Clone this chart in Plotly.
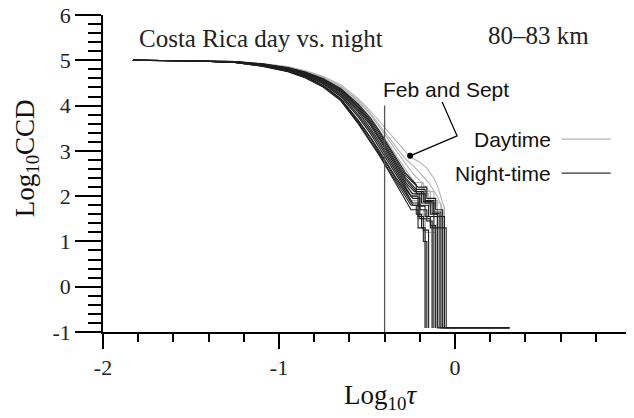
import plotly.graph_objects as go

# ---------------- data ----------------
TAU_GRID = [-1.83, -1.5, -1.25, -1.1, -0.95, -0.85, -0.75, -0.65, -0.55, -0.48, -0.43, -0.38, -0.33, -0.28]

NIGHT_CCD = [
    [5.0, 4.99, 4.95, 4.88, 4.76, 4.63, 4.43, 4.13, 3.63, 3.23, 2.93, 2.60, 2.30, 2.00],
    [5.0, 4.99, 4.95, 4.88, 4.77, 4.64, 4.45, 4.16, 3.68, 3.30, 3.00, 2.68, 2.38, 2.10],
    [5.0, 4.99, 4.95, 4.89, 4.78, 4.66, 4.48, 4.20, 3.75, 3.38, 3.07, 2.75, 2.45, 2.15],
    [5.0, 4.99, 4.96, 4.90, 4.79, 4.67, 4.50, 4.24, 3.80, 3.44, 3.14, 2.82, 2.50, 2.20],
    [5.0, 4.99, 4.96, 4.90, 4.80, 4.68, 4.52, 4.27, 3.86, 3.50, 3.20, 2.88, 2.55, 2.25],
    [5.0, 4.99, 4.96, 4.91, 4.81, 4.70, 4.54, 4.30, 3.90, 3.56, 3.26, 2.93, 2.60, 2.30],
    [5.0, 4.99, 4.96, 4.91, 4.82, 4.71, 4.55, 4.32, 3.94, 3.60, 3.30, 2.98, 2.66, 2.36],
    [5.0, 4.99, 4.97, 4.92, 4.83, 4.72, 4.57, 4.34, 3.97, 3.64, 3.35, 3.03, 2.70, 2.40],
    [5.0, 4.99, 4.97, 4.92, 4.83, 4.73, 4.58, 4.36, 4.00, 3.68, 3.40, 3.08, 2.75, 2.45],
    [5.0, 4.99, 4.97, 4.92, 4.84, 4.74, 4.60, 4.38, 4.03, 3.72, 3.44, 3.12, 2.80, 2.50],
    [5.0, 4.99, 4.95, 4.87, 4.75, 4.61, 4.41, 4.11, 3.60, 3.20, 2.90, 2.57, 2.24, 1.92],
    [5.0, 4.99, 4.95, 4.88, 4.76, 4.63, 4.44, 4.15, 3.66, 3.28, 2.97, 2.65, 2.34, 2.05],
]
NIGHT_TAIL_TAU = [
    [-0.25, -0.22, -0.22, -0.19, -0.19, -0.17, -0.17],
    [-0.24, -0.21, -0.21, -0.18, -0.18, -0.15, -0.15],
    [-0.24, -0.20, -0.20, -0.16, -0.16, -0.13, -0.13],
    [-0.25, -0.21, -0.21, -0.17, -0.17, -0.14, -0.14, -0.11, -0.11],
    [-0.24, -0.20, -0.20, -0.15, -0.15, -0.12, -0.12],
    [-0.23, -0.19, -0.19, -0.14, -0.14, -0.10, -0.10, 0.31],
    [-0.22, -0.18, -0.18, -0.13, -0.13, -0.09, -0.09],
    [-0.22, -0.17, -0.17, -0.12, -0.12, -0.08, -0.08, 0.31],
    [-0.21, -0.16, -0.16, -0.11, -0.11, -0.07, -0.07],
    [-0.22, -0.22, -0.17, -0.17, -0.12, -0.12, -0.06, -0.06],
    [-0.25, -0.21, -0.21, -0.18, -0.18, -0.16, -0.16],
    [-0.24, -0.20, -0.20, -0.14, -0.14, -0.05, -0.05, 0.31],
]
NIGHT_TAIL_CCD = [
    [1.80, 1.80, 1.60, 1.60, 1.30, 1.30, -0.91],
    [1.85, 1.85, 1.55, 1.55, 1.25, 1.25, -0.91],
    [1.95, 1.95, 1.70, 1.70, 1.45, 1.45, -0.91],
    [2.00, 2.00, 1.78, 1.78, 1.55, 1.55, 1.35, 1.35, -0.91],
    [2.05, 2.05, 1.80, 1.80, 1.55, 1.55, -0.91],
    [2.10, 2.10, 1.85, 1.85, 1.60, 1.60, -0.91, -0.91],
    [2.10, 2.10, 1.88, 1.88, 1.62, 1.62, -0.91],
    [2.15, 2.15, 1.90, 1.90, 1.65, 1.65, -0.91, -0.91],
    [2.20, 2.20, 1.95, 1.95, 1.70, 1.70, -0.91],
    [2.25, 2.05, 2.05, 1.85, 1.85, 1.55, 1.55, -0.91],
    [1.70, 1.70, 1.30, 1.30, 1.00, 1.00, -0.91],
    [1.80, 1.80, 1.50, 1.50, 1.30, 1.30, -0.91, -0.91],
]

DAY_CCD = [
    [5.0, 4.99, 4.97, 4.93, 4.86, 4.77, 4.65, 4.46, 4.15, 3.88, 3.65, 3.43, 3.19, 2.96],
    [5.0, 4.99, 4.97, 4.93, 4.85, 4.76, 4.63, 4.43, 4.11, 3.83, 3.57, 3.31, 3.06, 2.82],
    [5.0, 4.99, 4.97, 4.92, 4.84, 4.74, 4.60, 4.39, 4.05, 3.74, 3.46, 3.15, 2.83, 2.52],
    [5.0, 4.99, 4.96, 4.91, 4.81, 4.70, 4.54, 4.30, 3.92, 3.58, 3.28, 2.95, 2.62, 2.30],
    [5.0, 4.99, 4.96, 4.90, 4.80, 4.68, 4.51, 4.26, 3.84, 3.48, 3.18, 2.86, 2.53, 2.22],
    [5.0, 4.99, 4.97, 4.92, 4.84, 4.73, 4.59, 4.38, 4.03, 3.73, 3.46, 3.17, 2.87, 2.58],
    [5.0, 4.99, 4.95, 4.89, 4.78, 4.66, 4.48, 4.22, 3.78, 3.42, 3.10, 2.78, 2.45, 2.12],
    [5.0, 4.99, 4.97, 4.93, 4.85, 4.75, 4.62, 4.42, 4.09, 3.80, 3.54, 3.26, 2.98, 2.70],
]
DAY_TAIL_TAU = [
    [-0.256, -0.20, -0.16, -0.12, -0.097, -0.07, -0.06, -0.06],
    [-0.22, -0.15, -0.10, -0.07, -0.07],
    [-0.23, -0.19, -0.19, -0.15, -0.15, -0.10, -0.10],
    [-0.24, -0.20, -0.20, -0.17, -0.17],
    [-0.25, -0.21, -0.21, -0.18, -0.18, -0.13, -0.13],
    [-0.23, -0.18, -0.18, -0.12, -0.12, -0.08, -0.08],
    [-0.25, -0.21, -0.21, -0.17, -0.17, -0.11, -0.11],
    [-0.24, -0.19, -0.14, -0.14, -0.10, -0.10],
]
DAY_TAIL_CCD = [
    [2.87, 2.75, 2.62, 2.40, 2.20, 1.85, 1.75, -0.91],
    [2.60, 2.30, 2.00, 1.70, -0.91],
    [2.30, 2.30, 2.05, 2.05, 1.80, 1.80, -0.91],
    [2.00, 2.00, 1.60, 1.60, -0.91],
    [2.00, 2.00, 1.70, 1.70, 1.45, 1.45, -0.91],
    [2.30, 2.30, 2.10, 2.10, 1.85, 1.85, -0.91],
    [1.90, 1.90, 1.50, 1.50, 1.20, 1.20, -0.91],
    [2.50, 2.30, 2.10, 1.90, 1.90, -0.91],
]

REF_TAU = [-0.4, -0.4]
REF_CCD = [-1.0, 4.0]

FEB_SEPT_POINT = (-0.255, 2.89)

X_TICKS = [-2, -1, 0, 1]
X_TICK_TEXT = ["-2", "-1", "0", "1"]
Y_TICKS = [-1, 0, 1, 2, 3, 4, 5, 6]
Y_TICK_TEXT = ["-1", "0", "1", "2", "3", "4", "5", "6"]

DAY_COLOR = "#b3b3b3"
NIGHT_COLOR = "#1e1e1e"
SERIF = "Liberation Serif"
SANS = "Liberation Sans"

# ---------------- figure ----------------
fig = go.Figure()

for ccd, tt, tc in zip(DAY_CCD, DAY_TAIL_TAU, DAY_TAIL_CCD):
    fig.add_trace(go.Scatter(x=TAU_GRID + tt, y=ccd + tc, mode="lines",
                             line=dict(color=DAY_COLOR, width=1.1),
                             hoverinfo="skip", showlegend=False, cliponaxis=False))
for ccd, tt, tc in zip(NIGHT_CCD, NIGHT_TAIL_TAU, NIGHT_TAIL_CCD):
    fig.add_trace(go.Scatter(x=TAU_GRID + tt, y=ccd + tc, mode="lines",
                             line=dict(color=NIGHT_COLOR, width=1.1),
                             hoverinfo="skip", showlegend=False, cliponaxis=False))

fig.add_trace(go.Scatter(x=REF_TAU, y=REF_CCD, mode="lines",
                         line=dict(color="#555555", width=1.3),
                         hoverinfo="skip", showlegend=False))

# annotation leader line + dot
fig.add_shape(type="path", xref="x", yref="y",
              path="M -0.073 4.08 L 0.012 3.33 L -0.255 2.89",
              line=dict(color="black", width=1.2))
fig.add_trace(go.Scatter(x=[FEB_SEPT_POINT[0]], y=[FEB_SEPT_POINT[1]], mode="markers",
                         marker=dict(color="black", size=6),
                         hoverinfo="skip", showlegend=False))

# legend sample lines
fig.add_shape(type="line", xref="x", yref="y", x0=0.606, x1=0.885, y0=3.26, y1=3.26,
              line=dict(color=DAY_COLOR, width=1.3))
fig.add_shape(type="line", xref="x", yref="y", x0=0.606, x1=0.885, y0=2.51, y1=2.51,
              line=dict(color="#333333", width=1.3))

ann = []
ann.append(dict(x=-1.805, y=5.49, xref="x", yref="y", text="Costa Rica day vs. night",
                showarrow=False, xanchor="left", yanchor="middle",
                font=dict(family=SERIF, size=25, color="#222")))
ann.append(dict(x=0.475, y=5.54, xref="x", yref="y", text="80–83 km",
                showarrow=False, xanchor="center", yanchor="middle",
                font=dict(family=SERIF, size=25, color="#222")))
ann.append(dict(x=-0.05, y=4.35, xref="x", yref="y", text="Feb and Sept",
                showarrow=False, xanchor="center", yanchor="middle",
                font=dict(family=SANS, size=21, color="#111")))
ann.append(dict(x=0.555, y=3.26, xref="x", yref="y", text="Daytime",
                showarrow=False, xanchor="right", yanchor="middle",
                font=dict(family=SANS, size=21, color="#111")))
ann.append(dict(x=0.555, y=2.51, xref="x", yref="y", text="Night-time",
                showarrow=False, xanchor="right", yanchor="middle",
                font=dict(family=SANS, size=21, color="#111")))
ann.append(dict(x=-0.145, y=2.845, xref="paper", yref="y", text="Log<sub>10</sub>CCD",
                showarrow=False, textangle=-90, xanchor="center", yanchor="middle",
                font=dict(family=SERIF, size=27, color="#111")))
ann.append(dict(x=-0.425, y=-0.205, xref="x", yref="paper", text="Log<sub>10</sub><i>τ</i>",
                showarrow=False, xanchor="center", yanchor="middle",
                font=dict(family=SERIF, size=27, color="#111")))

# page body has an 8px default margin; figure sized so the plot lands where the reference has it
fig.update_layout(
    width=626, height=410,
    margin=dict(l=95, r=3, t=7, b=86, autoexpand=False),
    paper_bgcolor="white", plot_bgcolor="white",
    annotations=ann,
    showlegend=False,
)

fig.update_xaxes(range=[-2, 1], showgrid=False, zeroline=False, automargin=False,
                 showline=True, linecolor="black", linewidth=1.5,
                 ticks="outside", ticklen=15, tickwidth=1.6, tickcolor="black",
                 tickvals=X_TICKS, ticktext=X_TICK_TEXT, ticklabeloverflow="allow",
                 tickfont=dict(family=SERIF, size=22, color="#222"),
                 minor=dict(dtick=0.2, ticks="outside", ticklen=8, tickwidth=1.6,
                            tickcolor="black", showgrid=False))
fig.update_yaxes(range=[-1, 6], showgrid=False, zeroline=False, automargin=False,
                 showline=True, linecolor="black", linewidth=1.5,
                 ticks="outside", ticklen=26, tickwidth=1.6, tickcolor="black",
                 tickvals=Y_TICKS, ticktext=Y_TICK_TEXT, ticklabeloverflow="allow",
                 tickfont=dict(family=SERIF, size=22, color="#222"),
                 minor=dict(dtick=0.2, ticks="outside", ticklen=13, tickwidth=1.6,
                            tickcolor="black", showgrid=False))

fig.write_html("out.html")
